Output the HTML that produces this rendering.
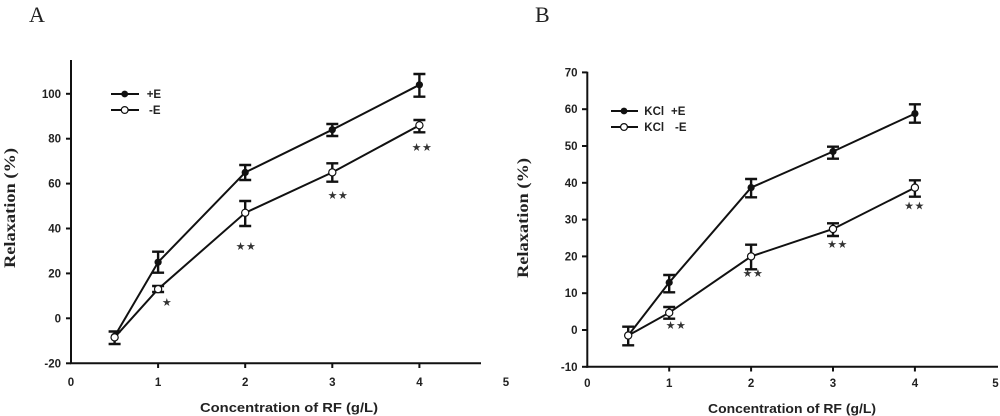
<!DOCTYPE html>
<html>
<head>
<meta charset="utf-8">
<style>
html,body{margin:0;padding:0;background:#fff;}
svg{display:block;}
.t{font-family:"Liberation Sans",Arial,sans-serif;font-weight:bold;font-size:11.5px;fill:#222;}
.lg{font-family:"Liberation Sans",Arial,sans-serif;font-weight:bold;font-size:11.5px;fill:#222;}
.st{font-family:"DejaVu Sans",sans-serif;font-size:11px;fill:#333;letter-spacing:0.5px;}
.ax{font-family:"Liberation Sans",Arial,sans-serif;font-weight:bold;font-size:13px;fill:#222;}
.yl{font-family:"Liberation Serif","Times New Roman",serif;font-weight:bold;font-size:16px;fill:#222;}
.pl{font-family:"Liberation Serif","Times New Roman",serif;font-size:22px;fill:#222;}
</style>
</head>
<body>
<svg width="1000" height="416" viewBox="0 0 1000 416" xmlns="http://www.w3.org/2000/svg">
<rect width="1000" height="416" fill="#fff"/>

<!-- ================= Panel A ================= -->
<text class="pl" x="29" y="22">A</text>
<g stroke="#111" stroke-width="2" fill="none">
  <line x1="71" y1="60" x2="71" y2="364"/>
  <line x1="70" y1="363.3" x2="481" y2="363.3"/>
  <line x1="66" y1="93.8" x2="71" y2="93.8"/>
  <line x1="66" y1="138.7" x2="71" y2="138.7"/>
  <line x1="66" y1="183.6" x2="71" y2="183.6"/>
  <line x1="66" y1="228.5" x2="71" y2="228.5"/>
  <line x1="66" y1="273.4" x2="71" y2="273.4"/>
  <line x1="66" y1="318.3" x2="71" y2="318.3"/>
  <line x1="66" y1="363.3" x2="71" y2="363.3"/>
  <line x1="158.1" y1="363.3" x2="158.1" y2="368"/>
  <line x1="245.2" y1="363.3" x2="245.2" y2="368"/>
  <line x1="332.3" y1="363.3" x2="332.3" y2="368"/>
  <line x1="419.4" y1="363.3" x2="419.4" y2="368"/>
</g>
<g class="t" text-anchor="end">
  <text x="61" y="97.8">100</text>
  <text x="61" y="142.7">80</text>
  <text x="61" y="187.6">60</text>
  <text x="61" y="232.5">40</text>
  <text x="61" y="277.4">20</text>
  <text x="61" y="322.3">0</text>
  <text x="61" y="367.3">-20</text>
</g>
<g class="t" text-anchor="middle">
  <text x="71" y="386">0</text>
  <text x="158.1" y="386">1</text>
  <text x="245.2" y="386">2</text>
  <text x="332.3" y="386">3</text>
  <text x="419.4" y="386">4</text>
  <text x="506" y="386">5</text>
</g>
<text class="ax" x="289" y="412" text-anchor="middle" textLength="178" lengthAdjust="spacingAndGlyphs">Concentration of RF (g/L)</text>
<text class="yl" transform="translate(15,208) rotate(-90)" text-anchor="middle" textLength="120" lengthAdjust="spacingAndGlyphs">Relaxation (%)</text>

<g stroke="#111" stroke-width="2" fill="none">
  <polyline points="114.6,336.3 158.1,262.2 245.2,172.4 332.3,129.7 419.4,84.8"/>
  <polyline points="114.6,337.4 158.1,289.1 245.2,212.8 332.3,172.4 419.4,125.3"/>
</g>
<g stroke="#111" stroke-width="2.4" fill="none">
  <path d="M114.6 331.5V344 M108.6 331.5H120.6 M108.6 344H120.6"/>
  <path d="M158.1 251.7V272.7 M152.1 251.7H164.1 M152.1 272.7H164.1"/>
  <path d="M245.2 165V180 M239.2 165H251.2 M239.2 180H251.2"/>
  <path d="M332.3 124V136 M326.3 124H338.3 M326.3 136H338.3"/>
  <path d="M419.4 74V96.7 M413.4 74H425.4 M413.4 96.7H425.4"/>
  <path d="M158.1 286V292 M152.1 286H164.1 M152.1 292H164.1"/>
  <path d="M245.2 201V226 M239.2 201H251.2 M239.2 226H251.2"/>
  <path d="M332.3 163.3V181.7 M326.3 163.3H338.3 M326.3 181.7H338.3"/>
  <path d="M419.4 120V132.3 M413.4 120H425.4 M413.4 132.3H425.4"/>
</g>
<g fill="#111">
  <circle cx="114.6" cy="336.3" r="3.6"/>
  <circle cx="158.1" cy="262.2" r="3.6"/>
  <circle cx="245.2" cy="172.4" r="3.6"/>
  <circle cx="332.3" cy="129.7" r="3.6"/>
  <circle cx="419.4" cy="84.8" r="3.6"/>
</g>
<g fill="#fff" stroke="#111" stroke-width="1.2">
  <circle cx="114.6" cy="337.4" r="3.6"/>
  <circle cx="158.1" cy="289.1" r="3.6"/>
  <circle cx="245.2" cy="212.8" r="3.6"/>
  <circle cx="332.3" cy="172.4" r="3.6"/>
  <circle cx="419.4" cy="125.3" r="3.6"/>
</g>
<g class="st" text-anchor="middle">
  <text x="167" y="306">★</text>
  <text x="246" y="250">★★</text>
  <text x="338" y="199">★★</text>
  <text x="422" y="151">★★</text>
</g>
<g stroke="#111" stroke-width="2">
  <line x1="111" y1="94" x2="139" y2="94"/>
  <line x1="111" y1="110" x2="139" y2="110"/>
</g>
<circle cx="124.7" cy="94" r="3.4" fill="#111"/>
<circle cx="124.7" cy="110" r="3.4" fill="#fff" stroke="#111" stroke-width="1.2"/>
<text class="lg" x="146.7" y="98">+E</text>
<text class="lg" x="149" y="114">-E</text>

<!-- ================= Panel B ================= -->
<text class="pl" x="535" y="22">B</text>
<g stroke="#111" stroke-width="2" fill="none">
  <line x1="587.3" y1="71.7" x2="587.3" y2="367.8"/>
  <line x1="586.3" y1="366.8" x2="998" y2="366.8"/>
  <line x1="582" y1="72.4" x2="587.3" y2="72.4"/>
  <line x1="582" y1="109.2" x2="587.3" y2="109.2"/>
  <line x1="582" y1="146" x2="587.3" y2="146"/>
  <line x1="582" y1="182.8" x2="587.3" y2="182.8"/>
  <line x1="582" y1="219.6" x2="587.3" y2="219.6"/>
  <line x1="582" y1="256.4" x2="587.3" y2="256.4"/>
  <line x1="582" y1="293.2" x2="587.3" y2="293.2"/>
  <line x1="582" y1="330" x2="587.3" y2="330"/>
  <line x1="582" y1="366.8" x2="587.3" y2="366.8"/>
  <line x1="669.2" y1="366.8" x2="669.2" y2="371.5"/>
  <line x1="751.1" y1="366.8" x2="751.1" y2="371.5"/>
  <line x1="833" y1="366.8" x2="833" y2="371.5"/>
  <line x1="914.9" y1="366.8" x2="914.9" y2="371.5"/>
</g>
<g class="t" text-anchor="end">
  <text x="577.5" y="76.4">70</text>
  <text x="577.5" y="113.2">60</text>
  <text x="577.5" y="150">50</text>
  <text x="577.5" y="186.8">40</text>
  <text x="577.5" y="223.6">30</text>
  <text x="577.5" y="260.4">20</text>
  <text x="577.5" y="297.2">10</text>
  <text x="577.5" y="334">0</text>
  <text x="577.5" y="370.8">-10</text>
</g>
<g class="t" text-anchor="middle">
  <text x="587.3" y="387">0</text>
  <text x="669.2" y="387">1</text>
  <text x="751.1" y="387">2</text>
  <text x="833" y="387">3</text>
  <text x="914.9" y="387">4</text>
  <text x="995.5" y="387">5</text>
</g>
<text class="ax" x="792" y="413" text-anchor="middle" textLength="168" lengthAdjust="spacingAndGlyphs">Concentration of RF (g/L)</text>
<text class="yl" transform="translate(528,218) rotate(-90)" text-anchor="middle" textLength="120" lengthAdjust="spacingAndGlyphs">Relaxation (%)</text>

<g stroke="#111" stroke-width="2" fill="none">
  <polyline points="628.2,335.5 669.2,282.5 751.1,187.6 833,151.5 914.9,113.6"/>
  <polyline points="628.2,335.5 669.2,312.7 751.1,256.4 833,229 914.9,187.6"/>
</g>
<g stroke="#111" stroke-width="2.4" fill="none">
  <path d="M628.2 326.7V345.3 M622.2 326.7H634.2 M622.2 345.3H634.2"/>
  <path d="M669.2 275V292.3 M663.2 275H675.2 M663.2 292.3H675.2"/>
  <path d="M751.1 179V197.3 M745.1 179H757.1 M745.1 197.3H757.1"/>
  <path d="M833 146.7V158.7 M827 146.7H839 M827 158.7H839"/>
  <path d="M914.9 104.3V122.7 M908.9 104.3H920.9 M908.9 122.7H920.9"/>
  <path d="M669.2 307V318.7 M663.2 307H675.2 M663.2 318.7H675.2"/>
  <path d="M751.1 244.7V269.3 M745.1 244.7H757.1 M745.1 269.3H757.1"/>
  <path d="M833 223.3V236 M827 223.3H839 M827 236H839"/>
  <path d="M914.9 180.3V196.7 M908.9 180.3H920.9 M908.9 196.7H920.9"/>
</g>
<g fill="#111">
  <circle cx="669.2" cy="282.5" r="3.6"/>
  <circle cx="751.1" cy="187.6" r="3.6"/>
  <circle cx="833" cy="151.5" r="3.6"/>
  <circle cx="914.9" cy="113.6" r="3.6"/>
</g>
<g fill="#fff" stroke="#111" stroke-width="1.2">
  <circle cx="628.2" cy="335.5" r="3.6"/>
  <circle cx="669.2" cy="312.7" r="3.6"/>
  <circle cx="751.1" cy="256.4" r="3.6"/>
  <circle cx="833" cy="229" r="3.6"/>
  <circle cx="914.9" cy="187.6" r="3.6"/>
</g>
<g class="st" text-anchor="middle">
  <text x="676" y="329">★★</text>
  <text x="753" y="277">★★</text>
  <text x="837.5" y="248">★★</text>
  <text x="914.5" y="209.5">★★</text>
</g>
<g stroke="#111" stroke-width="2">
  <line x1="611" y1="111" x2="638" y2="111"/>
  <line x1="611" y1="127" x2="638" y2="127"/>
</g>
<circle cx="624" cy="111" r="3.4" fill="#111"/>
<circle cx="624" cy="127" r="3.4" fill="#fff" stroke="#111" stroke-width="1.2"/>
<text class="lg" x="644.3" y="115">KCl</text>
<text class="lg" x="671" y="115">+E</text>
<text class="lg" x="644.3" y="131">KCl</text>
<text class="lg" x="675" y="131">-E</text>
</svg>
</body>
</html>
